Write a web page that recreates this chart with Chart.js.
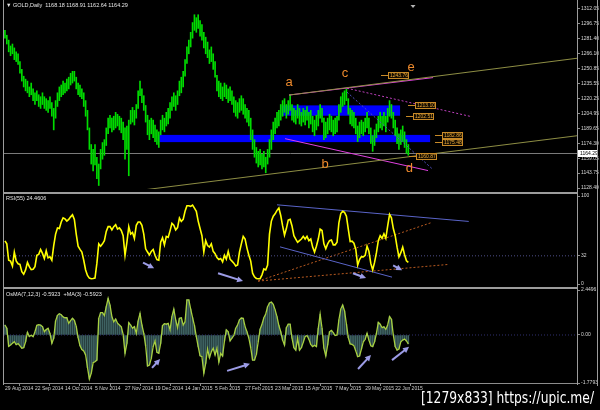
<!DOCTYPE html>
<html>
<head>
<meta charset="utf-8">
<script src="https://cdn.jsdelivr.net/npm/chart.js@4.4.1/dist/chart.umd.min.js"></script>
<style>
  html, body { margin: 0; padding: 0; background: #000; }
  #wrap { position: relative; width: 600px; height: 410px; overflow: hidden; background: #000; }
  #wrap canvas { position: absolute; left: 0; }
  .lbl { position: absolute; color: #e6e6e6; font: 5.5px "Liberation Sans", sans-serif; white-space: pre; line-height: 6px; }
  .rule { position: absolute; background: #9c9c9c; }
  #mark { position: absolute; left: 421px; top: 389px; color: #fff; font: 15px "DejaVu Sans", sans-serif; white-space: pre; transform-origin: 0 0; transform: scaleX(0.82); }
</style>
</head>
<body>
<div id="wrap">
  <canvas id="cMain" width="600" height="193" style="top:0"></canvas>
  <canvas id="cRsi" width="600" height="98" style="top:190px"></canvas>
  <canvas id="cOsma" width="600" height="126" style="top:284px"></canvas>
  <div class="rule" style="left:3px;top:0;width:1px;height:385px"></div>
  <div class="rule" style="left:577px;top:0;width:1px;height:385px"></div>
  <div class="rule" style="left:597px;top:0;width:1px;height:386px"></div>
  <div class="rule" style="left:4px;top:192px;width:573px;height:2px"></div>
  <div class="rule" style="left:4px;top:287px;width:573px;height:2px"></div>
  <div class="lbl" style="left:6px;top:2px">▼ GOLD,Daily  1168.18 1168.91 1162.64 1164.29</div>
  <div class="lbl" style="left:6px;top:195px">RSI(55) 24.4606</div>
  <div class="lbl" style="left:6px;top:291px">OsMA(7,12,3) -0.5923  +MA(3) -0.5923</div>
  <div id="mark">[1279x833] https://upic.me/</div>
</div>
<script>
// daily bars, one entry per session from 29 Aug 2014
const highs = [
  1290,1285,1280,1274,1276,1272,1268,1266,1258,1250,
  1243,1240,1238,1232,1236,1230,1226,1228,1224,1222,
  1226,1222,1220,1218,1222,1216,1210,1218,1226,1232,
  1234,1238,1236,1240,1242,1246,1248,1248,1242,1236,
  1234,1230,1226,1218,1208,1190,1173,1168,1173,1160,
  1153,1168,1175,1178,1190,1200,1203,1200,1202,1206,
  1204,1202,1200,1196,1190,1192,1198,1208,1211,1208,
  1214,1228,1238,1230,1223,1213,1203,1198,1200,1198,
  1193,1188,1186,1198,1203,1200,1206,1210,1216,1222,
  1226,1223,1228,1238,1242,1248,1260,1273,1280,1288,
  1298,1306,1303,1306,1300,1296,1288,1283,1278,1270,
  1273,1266,1258,1244,1238,1236,1232,1236,1234,1230,
  1232,1228,1222,1218,1216,1220,1223,1220,1214,1210,
  1208,1200,1188,1178,1170,1166,1168,1163,1166,1160,
  1168,1178,1188,1196,1200,1206,1208,1214,1218,1220,
  1214,1218,1224,1214,1210,1208,1214,1210,1206,1210,
  1208,1212,1206,1208,1202,1198,1203,1208,1214,1210,
  1200,1196,1200,1204,1202,1198,1200,1202,1214,1222,
  1226,1228,1230,1220,1210,1208,1206,1200,1192,1196,
  1198,1196,1200,1206,1200,1190,1182,1188,1194,1202,
  1206,1202,1206,1202,1210,1218,1214,1206,1198,1190,
  1184,1188,1192,1186,1178,1173
];
const lows = [
  1282,1276,1268,1264,1266,1260,1258,1255,1246,1238,
  1232,1228,1226,1222,1224,1218,1214,1218,1212,1210,
  1214,1210,1208,1206,1210,1202,1188,1200,1212,1218,
  1222,1224,1226,1228,1230,1234,1236,1238,1230,1224,
  1222,1220,1212,1202,1188,1168,1153,1146,1152,1138,
  1131,1148,1158,1162,1172,1184,1190,1186,1188,1190,
  1192,1188,1185,1178,1158,1168,1141,1194,1196,1193,
  1200,1210,1223,1216,1208,1196,1183,1178,1184,1180,
  1176,1173,1170,1183,1188,1186,1192,1194,1200,1208,
  1212,1208,1214,1223,1226,1232,1243,1256,1266,1273,
  1282,1290,1288,1292,1284,1280,1272,1266,1262,1256,
  1258,1250,1242,1228,1222,1220,1218,1222,1220,1216,
  1218,1214,1206,1202,1200,1206,1208,1204,1200,1196,
  1192,1178,1168,1160,1154,1150,1152,1148,1150,1144,
  1153,1160,1168,1178,1184,1190,1192,1198,1202,1206,
  1200,1204,1208,1198,1196,1194,1200,1194,1192,1196,
  1193,1198,1190,1194,1186,1182,1188,1192,1200,1196,
  1178,1180,1184,1188,1186,1182,1184,1186,1198,1206,
  1212,1214,1218,1204,1194,1192,1190,1184,1176,1180,
  1184,1182,1186,1190,1184,1174,1166,1172,1180,1186,
  1190,1188,1192,1186,1196,1202,1200,1190,1182,1174,
  1168,1173,1176,1170,1164,1162
];
const rsiValues = [
  49,45.6,27,26,20.4,36.3,26.3,23,22.3,14.1,
  11.1,16,24.5,19.7,16.3,16.7,19.7,32.6,33.7,39.3,
  34.8,29,37.8,29.7,30.8,27,43.7,56.7,63.7,63,
  70.4,75.2,74,71.5,73.4,76.3,78.6,73.4,56.7,43,
  39.3,36.3,27,16,9.7,6.7,6,6.3,6.7,23.4,
  45.6,43,45.6,49.3,59.7,65.2,65.2,61.5,65.2,67.4,
  62.3,63.7,60.8,54.9,32.6,47.4,65.2,56.7,58.6,51.9,
  66.7,70.4,70.4,66.7,56.7,40,36.3,33,37.1,39.3,
  32.6,27.8,27,47.4,52.6,44.5,54.1,53,60.4,68.9,
  66.7,61.5,64.1,74.9,71.1,73.4,82.6,88.9,88.9,88.2,
  89.7,86.3,82.6,71.5,63,54.9,36.3,49.3,43.7,41.9,
  45.6,37.1,34.5,30,27.8,29,25.2,32.6,28.2,37.1,
  28.2,26,23.7,20.4,21.5,36.3,45.6,54.1,51.1,40.8,
  32.6,26,12.3,8.2,6.3,6,6,10.4,17.1,16,
  21.5,56.7,71.5,77.1,79.7,83.7,86.3,77.8,66,55.6,
  63,72.6,73.4,66,54.9,51.1,47.4,49.3,51.1,54.1,
  51.1,54.1,49.3,51.1,41.9,36.3,43,51.1,62.3,60.8,
  45.6,40,45.6,49.3,50,44.5,44.5,47.4,69.6,80,
  82.6,81.5,77.1,62.3,48.2,48.6,46.3,39.3,21.5,27.8,
  31.1,30.8,32.6,43,37.1,23.4,16,24.5,35.6,49.3,
  54.9,51.9,57.1,51.9,66,79,75.2,63,54.9,41.9,
  30.8,35.6,41.9,33.3,26.3,24.5
];
const osmaValues = [
  0.37,0.25,-0.42,-0.37,-0.31,-0.25,-0.36,-0.32,-0.40,-0.49,
  -0.47,-0.25,0.10,-0.06,-0.01,-0.06,0.12,0.36,0.38,0.37,
  0.31,0.12,0.20,0.25,0.06,-0.31,-0.12,0.52,0.73,0.79,
  0.75,0.67,0.64,0.64,0.43,0.53,0.62,0.54,0.32,-0.10,
  -0.40,-0.54,-0.59,-0.74,-1.21,-1.63,-1.42,-1.03,-0.99,-0.93,
  0.62,0.83,0.83,0.72,1.05,1.36,1.11,0.68,0.49,0.59,
  0.44,0.37,0.30,0.02,-0.68,-0.31,0.46,0.37,0.25,0.31,
  0.06,0.52,0.80,0.37,0.06,-0.40,-1.15,-1.11,-0.87,-0.43,
  -0.22,-0.64,-0.68,-0.31,0.35,0.42,0.40,0.43,0.19,0.68,
  0.96,0.56,0.27,0.62,0.64,0.37,0.49,1.30,1.30,0.96,
  0.64,0.35,-0.06,-0.43,-0.77,-0.80,-1.42,-1.05,-0.52,-0.84,
  -0.62,-0.49,-0.74,-0.49,-1.01,-0.68,-0.78,-0.22,0.19,0.12,
  -0.22,-0.12,-0.02,0.25,0.37,0.56,0.63,0.62,0.31,0.12,
  -0.12,-0.47,-0.93,-0.93,-0.72,-0.25,0.22,0.40,0.64,0.78,
  1.05,1.19,1.22,1.14,0.93,0.68,0.35,0.12,-0.19,-0.37,
  0.27,0.40,0.40,-0.12,-0.47,-0.56,-0.12,-0.56,-0.47,-0.27,
  -0.06,-0.02,-0.16,-0.35,-0.43,-0.38,-0.43,0.25,0.77,0.25,
  -0.49,-0.78,-0.37,0.12,0.17,0.09,-0.02,0.00,0.56,0.96,
  1.11,0.89,0.40,-0.10,-0.33,-0.35,-0.40,-0.59,-0.80,-0.78,
  -0.52,-0.25,-0.16,0.06,-0.19,-0.40,-0.43,-0.25,0.06,0.47,
  0.40,0.27,0.30,0.21,0.37,0.68,0.58,0.00,-0.43,-0.56,
  -0.52,-0.25,-0.19,-0.15,-0.22,-0.33
];

const priceTicks = [1312.05,1296.75,1281.40,1266.10,1250.85,1235.55,1220.25,1204.95,1189.65,1174.30,1159.05,1143.75,1128.40];
const lastPrice = 1164.29;
const rsiTicks = [100, 32, 0];
const osmaTickLabels = ['2.4496', '0.00', '-1.7793'];
const dateLabels = ['29 Aug 2014','22 Sep 2014','14 Oct 2014','5 Nov 2014','27 Nov 2014','19 Dec 2014','14 Jan 2015','5 Feb 2015','27 Feb 2015','23 Mar 2015','15 Apr 2015','7 May 2015','29 May 2015','22 Jun 2015'];
const dateBars = [0,16,32,48,64,80,96,112,128,144,160,176,192,208];

// drawn objects on the price window (bar index, price)
const zoneFrom = [147.5, 82.3];
const zoneTo = [210.6, 226.6];
const zoneTop = [1213.10, 1182.86];
const zoneBottom = [1202.51, 1175.48];
const tagPrices = [1243.76, 1213.10, 1202.51, 1182.86, 1175.48, 1160.87];
const tagBars = [204.2, 218.6, 217.5, 233, 233, 219.1];
const waveLetters = ['a', 'b', 'c', 'd', 'e'];
const waveBars = [151.4, 170.6, 181.3, 215.5, 216.5];
const wavePrices = [1232.9, 1149.3, 1242.6, 1145.3, 1248.5];
const shiftBar = 217.5;

const mainLines = [
  [[73.6, 1126.4], [304.9, 1182.0], '#8e8e44', []],
  [[151.4, 1223.7], [304.9, 1261.4], '#8e8e44', []],
  [[151.4, 1223.7], [228.2, 1241.6], '#e040e0', []],
  [[149.3, 1179.0], [225.5, 1146.3], '#e040e0', []],
  [[182.3, 1230.7], [247.9, 1201.9], '#c040c0', [2, 2]],
  [[182.3, 1226.7], [228.2, 1147.3], '#5050c0', [2, 2]]
];
const rsiLines = [
  [[-0.5, 32], [304.9, 32], '#50508a', [1, 2]],
  [[145.0, 90], [247.2, 71.1], '#5a64c8', []],
  [[146.6, 42.2], [206.3, 7.8], '#5a64c8', []],
  [[134.9, 3.3], [227.6, 70], '#b85a20', [2, 2]],
  [[134.9, 3.3], [236.2, 22.2], '#b85a20', [2, 2]]
];
const rsiArrows = [[73.6, 24.4, 79.5, 17.8], [113.6, 12.2, 126.9, 3.3], [185.5, 12.2, 192.5, 6.7], [206.9, 21.1, 211.7, 15.6]];
const osmaArrows = [[78.4, -1.22, 82.7, -0.89], [118.4, -1.33, 130.6, -1.07], [188.2, -1.26, 195.1, -0.74], [206.3, -0.93, 215.4, -0.44]];

const X_MIN = -0.5, X_MAX = 304.9;
const OSMA_MIN = -1.7793, OSMA_MAX = 1.668;
const AXIS = '#8c8c8c';
const tickFont = { family: 'Liberation Sans', size: 5 };

function segment(l) {
  return {
    type: 'line',
    data: [{ x: l[0][0], y: l[0][1] }, { x: l[1][0], y: l[1][1] }],
    borderColor: l[2], borderWidth: 1, borderDash: l[3],
    pointRadius: 0, order: 1
  };
}

function xHidden() {
  return { type: 'linear', min: X_MIN, max: X_MAX, display: false, offset: false };
}

function yRight(extra) {
  return Object.assign({
    position: 'right',
    afterFit: s => { s.width = 23; },
    grid: { drawOnChartArea: false, tickLength: 3, color: AXIS },
    border: { color: AXIS },
    ticks: { font: tickFont, color: '#d8d8d8', padding: 1, autoSkip: false }
  }, extra);
}

function arrowPlugin(list) {
  return {
    id: 'arrows',
    afterDatasetsDraw(chart) {
      const { ctx, scales: { x, y } } = chart;
      ctx.save();
      ctx.strokeStyle = '#9c9ce6';
      ctx.fillStyle = '#9c9ce6';
      ctx.lineWidth = 2;
      list.forEach(a => {
        const x1 = x.getPixelForValue(a[0]), y1 = y.getPixelForValue(a[1]);
        const x2 = x.getPixelForValue(a[2]), y2 = y.getPixelForValue(a[3]);
        const ang = Math.atan2(y2 - y1, x2 - x1);
        const c = Math.cos(ang), s = Math.sin(ang);
        ctx.beginPath();
        ctx.moveTo(x1, y1);
        ctx.lineTo(x2 - 4 * c, y2 - 4 * s);
        ctx.stroke();
        ctx.beginPath();
        ctx.moveTo(x2, y2);
        ctx.lineTo(x2 - 6 * c + 3 * s, y2 - 6 * s - 3 * c);
        ctx.lineTo(x2 - 6 * c - 3 * s, y2 - 6 * s + 3 * c);
        ctx.closePath();
        ctx.fill();
      });
      ctx.restore();
    }
  };
}

const mainOverlay = {
  id: 'mainOverlay',
  beforeDatasetsDraw(chart) {
    const { ctx, chartArea: a, scales: { x, y } } = chart;
    ctx.save();
    ctx.beginPath();
    ctx.rect(a.left, a.top, a.width, a.height);
    ctx.clip();
    ctx.fillStyle = '#0000ff';
    zoneFrom.forEach((f, i) => {
      const x1 = x.getPixelForValue(f), x2 = x.getPixelForValue(zoneTo[i]);
      const y1 = y.getPixelForValue(zoneTop[i]), y2 = y.getPixelForValue(zoneBottom[i]);
      ctx.fillRect(x1, y1, x2 - x1, y2 - y1);
    });
    const yp = Math.round(y.getPixelForValue(lastPrice)) + 0.5;
    ctx.strokeStyle = '#7a7a7a';
    ctx.lineWidth = 1;
    ctx.beginPath();
    ctx.moveTo(a.left, yp);
    ctx.lineTo(a.right, yp);
    ctx.stroke();
    ctx.restore();
  },
  afterDatasetsDraw(chart) {
    const { ctx, scales: { x, y } } = chart;
    ctx.save();
    ctx.font = '5px "Liberation Sans"';
    ctx.textBaseline = 'middle';
    tagPrices.forEach((p, i) => {
      const px = Math.round(x.getPixelForValue(tagBars[i])), py = Math.round(y.getPixelForValue(p));
      ctx.strokeStyle = '#c88a28';
      ctx.lineWidth = 1;
      ctx.beginPath();
      ctx.moveTo(px - 7, py + 0.5);
      ctx.lineTo(px, py + 0.5);
      ctx.stroke();
      ctx.fillStyle = '#140c00';
      ctx.fillRect(px, py - 3, 21, 7);
      ctx.strokeRect(px + 0.5, py - 2.5, 20, 6);
      ctx.fillStyle = '#e8a838';
      ctx.fillText(p.toFixed(2), px + 2, py + 0.8);
    });
    ctx.font = '13px "Liberation Sans"';
    ctx.textBaseline = 'alphabetic';
    ctx.textAlign = 'center';
    ctx.fillStyle = '#ee8a2c';
    waveLetters.forEach((t, i) => {
      ctx.fillText(t, x.getPixelForValue(waveBars[i]), y.getPixelForValue(wavePrices[i]));
    });
    ctx.restore();
  },
  afterDraw(chart) {
    const { ctx, chartArea: a, scales: { x, y } } = chart;
    const py = Math.round(y.getPixelForValue(lastPrice));
    ctx.save();
    ctx.fillStyle = '#ffffff';
    ctx.fillRect(a.right + 1, py - 3, 20, 7);
    ctx.fillStyle = '#000000';
    ctx.font = '5px "Liberation Sans"';
    ctx.textBaseline = 'middle';
    ctx.fillText(lastPrice.toFixed(2), a.right + 3, py + 0.8);
    const sx = x.getPixelForValue(shiftBar);
    ctx.fillStyle = '#b4b4b4';
    ctx.beginPath();
    ctx.moveTo(sx - 2.5, a.top + 1);
    ctx.lineTo(sx + 2.5, a.top + 1);
    ctx.lineTo(sx, a.top + 4);
    ctx.closePath();
    ctx.fill();
    ctx.restore();
  }
};

const baseOptions = {
  responsive: false,
  animation: false,
  events: [],
  plugins: { legend: { display: false }, tooltip: { enabled: false } }
};

new Chart(document.getElementById('cMain'), {
  type: 'bar',
  data: {
    datasets: mainLines.map(segment).concat([{
      type: 'bar',
      data: highs.map((h, i) => ({ x: i, y: [lows[i], h] })),
      backgroundColor: '#00dc00',
      barThickness: 1,
      order: 5
    }])
  },
  options: Object.assign({}, baseOptions, {
    layout: { padding: { left: 4, right: 0, top: 1, bottom: 1 } },
    scales: {
      x: xHidden(),
      y: yRight({
        min: 1127.42, max: 1317.01,
        afterBuildTicks: s => { s.ticks = priceTicks.map(v => ({ value: v })); },
        ticks: { font: tickFont, color: '#d8d8d8', padding: 1, autoSkip: false, callback: v => v.toFixed(2) }
      })
    }
  }),
  plugins: [mainOverlay]
});

new Chart(document.getElementById('cRsi'), {
  type: 'line',
  data: {
    datasets: [{
      data: rsiValues.map((v, i) => ({ x: i, y: v })),
      borderColor: '#ffff00', borderWidth: 1.6, pointRadius: 0, order: 0
    }].concat(rsiLines.map(segment))
  },
  options: Object.assign({}, baseOptions, {
    layout: { padding: { left: 4, right: 0, top: 6, bottom: 2 } },
    scales: {
      x: xHidden(),
      y: yRight({
        min: 0, max: 100,
        afterBuildTicks: s => { s.ticks = rsiTicks.map(v => ({ value: v })); },
        ticks: { font: tickFont, color: '#d8d8d8', padding: 1, autoSkip: false, callback: v => String(v) }
      })
    }
  }),
  plugins: [arrowPlugin(rsiArrows)]
});

new Chart(document.getElementById('cOsma'), {
  type: 'bar',
  data: {
    datasets: [
      {
        type: 'line',
        data: osmaValues.map((v, i) => ({ x: i, y: v })),
        borderColor: '#a8d040', borderWidth: 1.3, pointRadius: 0, order: 0
      },
      segment([[-0.5, 0], [304.9, 0], '#303070', [1, 2]]),
      {
        type: 'bar',
        data: osmaValues.map((v, i) => ({ x: i, y: v })),
        backgroundColor: '#3e6262',
        barThickness: 1,
        order: 5
      }
    ]
  },
  options: Object.assign({}, baseOptions, {
    layout: { padding: { left: 4, right: 0, top: 6, bottom: 0 } },
    scales: {
      x: {
        type: 'linear', min: X_MIN, max: X_MAX, offset: false,
        afterFit: s => { s.height = 27; },
        afterBuildTicks: s => { s.ticks = dateBars.map(v => ({ value: v })); },
        grid: { drawOnChartArea: false, tickLength: 3, color: AXIS },
        border: { color: AXIS },
        ticks: {
          font: tickFont, color: '#d0d0d0', padding: 0, align: 'start',
          autoSkip: false, maxRotation: 0, minRotation: 0,
          callback: (v, i) => dateLabels[i]
        }
      },
      y: yRight({
        min: OSMA_MIN, max: OSMA_MAX,
        afterBuildTicks: s => { s.ticks = [OSMA_MAX, 0, OSMA_MIN].map(v => ({ value: v })); },
        ticks: { font: tickFont, color: '#d8d8d8', padding: 1, autoSkip: false, callback: (v, i) => osmaTickLabels[i] }
      })
    }
  }),
  plugins: [arrowPlugin(osmaArrows)]
});
</script>
</body>
</html>
